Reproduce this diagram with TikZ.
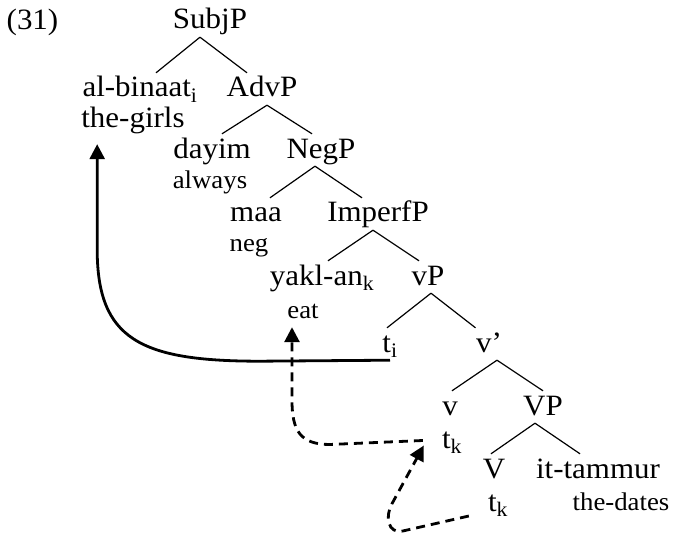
\documentclass[tikz,border=0pt]{standalone}
\usepackage{fontspec}
\setmainfont{Liberation Serif}[FakeStretch=1.05]
\usetikzlibrary{arrows.meta}

\begin{document}
\begin{tikzpicture}[x=1pt,y=-1pt,
    lbl/.style={inner xsep=0pt,inner ysep=3pt,text height=21pt,text depth=5pt,anchor=base,
      font=\fontsize{29.5}{31}\selectfont},
    gl/.style={inner xsep=0pt,inner ysep=3pt,text height=18pt,text depth=5pt,anchor=base,
      font=\fontsize{25.5}{27}\selectfont},
    branch/.style={line width=1.2pt},
    trace/.style={line width=2.8pt,-{Triangle[length=15pt,width=15pt]}},
    dashtrace/.style={trace,dash pattern=on 9pt off 6pt}]
   \useasboundingbox (0,0) rectangle (673,535);

   \node[lbl] (num) at (32.5,30) {(31)};
   \node[lbl] (subj) at (210,29) {SubjP};
   \node[lbl] (alb) at (140,97) {al-binaat\textsubscript{i}};
   \node[lbl] (adv) at (262,97) {AdvP};
   \node[lbl] (girls) at (133,128) {the-girls};
   \node[lbl] (dayim) at (212,158) {dayim};
   \node[lbl] (negp) at (321,158) {NegP};
   \node[gl] (always) at (210,189) {always};
   \node[lbl] (maa) at (256,222) {maa};
   \node[lbl] (imperf) at (378,222) {ImperfP};
   \node[gl] (neg) at (249,251) {neg};
   \node[lbl] (yakl) at (322,285) {yakl-an\textsubscript{k}};
   \node[lbl] (vp) at (428,285) {vP};
   \node[gl] (eat) at (303,318) {eat};
   \node[lbl] (ti) at (390,352) {t\textsubscript{i}};
   \node[lbl] (vbar) at (489,352) {v'};
   \node[lbl] (v) at (450,415) {v};
   \node[lbl] (vpp) at (543,415) {VP};
   \node[lbl] (tk1) at (452,448) {t\textsubscript{k}};
   \node[lbl] (V) at (494,478) {V};
   \node[lbl] (it) at (598,478) {it-tammur};
   \node[lbl] (tk2) at (498,511) {t\textsubscript{k}};
   \node[gl] (dates) at (621,510) {the-dates};

   \draw[branch] ([shift={(-10,0)}]subj.south) -- ([shift={(16,0)}]alb.north);
   \draw[branch] ([shift={(-10,0)}]subj.south) -- ([shift={(-15,0)}]adv.north);
   \draw[branch] ([shift={(5,0)}]adv.south) -- ([shift={(10,0)}]dayim.north);
   \draw[branch] ([shift={(5,0)}]adv.south) -- ([shift={(-9,0)}]negp.north);
   \draw[branch] ([shift={(-6,0)}]negp.south) -- ([shift={(14,0)}]maa.north);
   \draw[branch] ([shift={(-6,0)}]negp.south) -- ([shift={(-16,0)}]imperf.north);
   \draw[branch] ([shift={(-5,0)}]imperf.south) -- ([shift={(6,0)}]yakl.north);
   \draw[branch] ([shift={(-5,0)}]imperf.south) -- ([shift={(-9,0)}]vp.north);
   \draw[branch] ([shift={(3,0)}]vp.south) -- ([shift={(-3,0)}]ti.north);
   \draw[branch] ([shift={(3,0)}]vp.south) -- ([shift={(-13.5,0)}]vbar.north);
   \draw[branch] ([shift={(8,0)}]vbar.south) -- ([shift={(2,0)}]v.north);
   \draw[branch] ([shift={(8,0)}]vbar.south) -- (vpp.north);
   \draw[branch] ([shift={(-8,0)}]vpp.south) -- ([shift={(-3,0)}]V.north);
   \draw[branch] ([shift={(-8,0)}]vpp.south) -- ([shift={(-18,0)}]it.north);

   \draw[trace] (ti.south) -- ++(-130,1) .. controls +(-120,0) and +(0,90) .. ([shift={(16,113)}]girls.south west)
      -- ([shift={(16,8)}]girls.south west);
   \draw[dashtrace] ([shift={(-19,0.5)}]tk1.west) -- ++(-93,4) .. controls +(-30,0) and +(0,30) .. ([shift={(-11,74)}]eat.south)
      -- ([shift={(-11,1)}]eat.south);
   \draw[dashtrace] ([shift={(-19,13)}]tk2.west) -- ++(-66,15) .. controls +(-15,3) and +(-7,13) .. ++(-11,-27)
      -- ([shift={(-18,5.5)}]tk1.west);
\end{tikzpicture}
\end{document}
